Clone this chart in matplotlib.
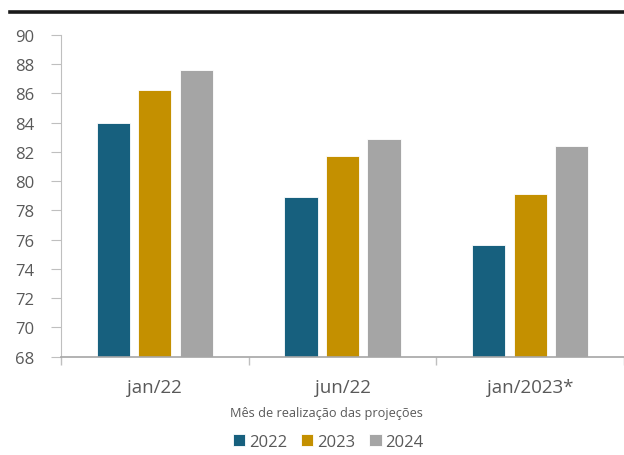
import numpy as np
import matplotlib
matplotlib.use("Agg")
import matplotlib.pyplot as plt

plt.rcParams['font.family'] = ['Open Sans', 'DejaVu Sans']

# data
categories = ['jan/22', 'jun/22', 'jan/2023*']
series = ['2022', '2023', '2024']
values_2022 = [84.0, 78.9, 75.6]
values_2023 = [86.2, 81.7, 79.1]
values_2024 = [87.6, 82.9, 82.4]
colors = ['#17607e', '#c49000', '#a5a5a5']
text_color = '#595959'

fig = plt.figure(figsize=(6.24, 4.56), dpi=100)
ax = fig.add_axes([61 / 624, 1 - 357.7 / 456, 1 - 61 / 624, (357.7 - 35.7) / 456])

x = np.arange(len(categories))
width = 33.5 / 190
step = 42 / 190
for i, (vals, name) in enumerate(zip([values_2022, values_2023, values_2024], series)):
    ax.bar(x + (i - 1) * step, np.array(vals) - 68, bottom=68, width=width,
           color=colors[i], edgecolor='white', linewidth=0.6, label=name, zorder=2)

ax.set_ylim(68, 90)
ax.set_yticks(np.arange(68, 91, 2))
ax.set_xlim(-0.5, (624 - 61) / 190 - 0.5)

ax.set_xticks(x)
ax.set_xticklabels(categories, fontsize=13.5, color=text_color)
ax.set_xticks(np.arange(-0.5, 3, 1), minor=True)
ax.tick_params(axis='x', which='major', length=0, pad=15)
ax.tick_params(axis='x', which='minor', length=6, color='#bfbfbf', width=1)
ax.tick_params(axis='y', labelsize=12, labelcolor=text_color, color='#bfbfbf', length=7, pad=12)

for s in ['top', 'right']:
    ax.spines[s].set_visible(False)
ax.spines['left'].set_color('#bfbfbf')
ax.spines['bottom'].set_color('#a6a6a6')
ax.spines['bottom'].set_linewidth(1.2)

fig.text(326 / 624, 1 - 414 / 456, 'Mês de realização das projeções', ha='center', va='center',
         fontsize=9.2, color=text_color)

fig.legend(loc='center', bbox_to_anchor=(328 / 624, 1 - 443 / 456), ncol=3, frameon=False,
           fontsize=12, labelcolor=text_color, handlelength=0.75, handleheight=0.75,
           handletextpad=0.2, columnspacing=0.85)

# thick rule at the top
fig.add_artist(plt.Line2D([10 / 624, 1], [1 - 12.5 / 456, 1 - 12.5 / 456], color='#1a1a1a',
                          linewidth=2.6, transform=fig.transFigure))

fig.savefig('out.png', dpi=100)
